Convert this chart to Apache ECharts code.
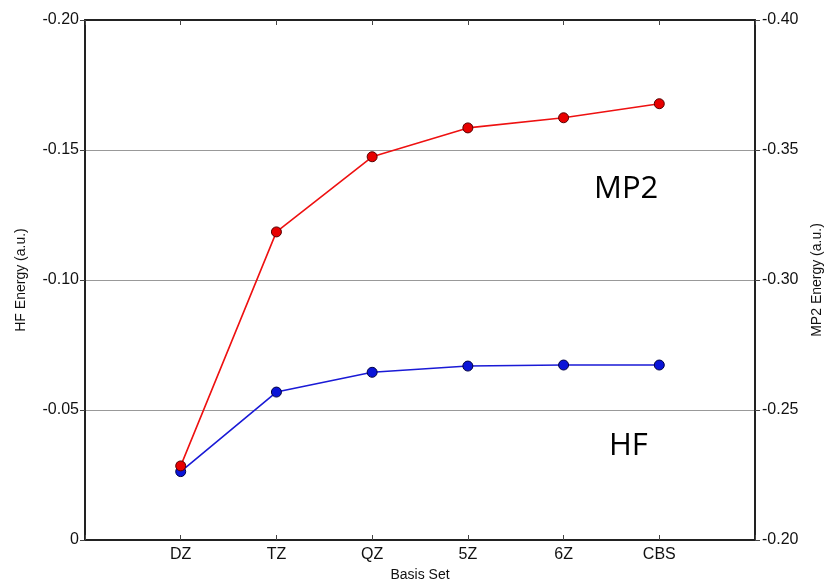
<!DOCTYPE html>
<html>
<head>
<meta charset="utf-8">
<script src="https://cdn.jsdelivr.net/npm/echarts@6/dist/echarts.min.js"></script>
<style>
  html, body { margin: 0; padding: 0; background: #fff; }
  #chart { width: 827px; height: 584px; }
</style>
</head>
<body>
<div id="chart"></div>
<script>
// basis sets, padded with an empty slot at each end
const basisSets = ['DZ', 'TZ', 'QZ', '5Z', '6Z', 'CBS']
const hfEnergy = [-0.0263, -0.0569, -0.0645, -0.0669, -0.0673, -0.0673]
const mp2Energy = [-0.2285, -0.3185, -0.3474, -0.3585, -0.3624, -0.3678]

const categories = ['', ...basisSets, '']
const pad = arr => [null, ...arr, null]

const fmt = v => (Math.abs(v) < 1e-9 ? '0' : v.toFixed(2))

const chart = echarts.init(document.getElementById('chart'))

const axisText = { color: '#111', fontSize: 16, fontFamily: 'Liberation Sans, Arial, sans-serif' }
const nameText = { color: '#111', fontSize: 14, fontFamily: 'Liberation Sans, Arial, sans-serif' }
const frame = { show: true, onZero: false, lineStyle: { color: '#222', width: 2 } }

const option = {
  animation: false,
  grid: { left: 85, right: 72, top: 20, bottom: 44, outerBoundsMode: 'none', containLabel: false },
  xAxis: [
    {
      type: 'category',
      data: categories,
      boundaryGap: false,
      name: 'Basis Set',
      nameLocation: 'middle',
      nameGap: 27,
      nameTextStyle: nameText,
      axisLine: frame,
      axisTick: { inside: true, length: 5, lineStyle: { color: '#444' } },
      axisLabel: { ...axisText, margin: 7 },
      splitLine: { show: false }
    },
    {
      type: 'category',
      position: 'top',
      data: categories,
      boundaryGap: false,
      axisLine: frame,
      axisTick: { inside: true, length: 5, lineStyle: { color: '#444' } },
      axisLabel: { show: false },
      splitLine: { show: false }
    }
  ],
  yAxis: [
    {
      type: 'value',
      min: -0.2,
      max: 0,
      interval: 0.05,
      inverse: true,
      name: 'HF Energy (a.u.)',
      nameLocation: 'middle',
      nameGap: 57,
      nameRotate: 90,
      nameTextStyle: nameText,
      axisLine: frame,
      axisTick: { show: true, length: 5, lineStyle: { color: '#444' } },
      axisLabel: { ...axisText, margin: 6, formatter: v => fmt(v) },
      splitLine: { show: true, lineStyle: { color: '#999', width: 1 } }
    },
    {
      type: 'value',
      min: -0.4,
      max: -0.2,
      interval: 0.05,
      inverse: true,
      position: 'right',
      name: 'MP2 Energy (a.u.)',
      nameLocation: 'middle',
      nameGap: 55,
      nameRotate: 90,
      nameTextStyle: nameText,
      axisLine: frame,
      axisTick: { show: true, length: 5, lineStyle: { color: '#444' } },
      axisLabel: { ...axisText, margin: 7, formatter: v => fmt(v) },
      splitLine: { show: false }
    }
  ],
  series: [
    {
      name: 'MP2',
      type: 'line',
      xAxisIndex: 0,
      yAxisIndex: 1,
      data: pad(mp2Energy),
      symbol: 'circle',
      symbolSize: 10,
      lineStyle: { color: '#ee1111', width: 1.6 },
      itemStyle: { color: '#e80000', borderColor: '#550000', borderWidth: 1 },
      z: 3
    },
    {
      name: 'HF',
      type: 'line',
      xAxisIndex: 0,
      yAxisIndex: 0,
      data: pad(hfEnergy),
      symbol: 'circle',
      symbolSize: 10,
      lineStyle: { color: '#1a1ad6', width: 1.6 },
      itemStyle: { color: '#0a14d8', borderColor: '#000044', borderWidth: 1 },
      z: 2
    }
  ],
  graphic: [
    {
      type: 'text',
      left: 594,
      top: 174,
      style: { text: 'MP2', fill: '#000', font: '31px "Open Sans", sans-serif' }
    },
    {
      type: 'text',
      left: 609,
      top: 431,
      style: { text: 'HF', fill: '#000', font: '31px "Open Sans", sans-serif' }
    }
  ]
}

chart.setOption(option)
</script>
</body>
</html>
